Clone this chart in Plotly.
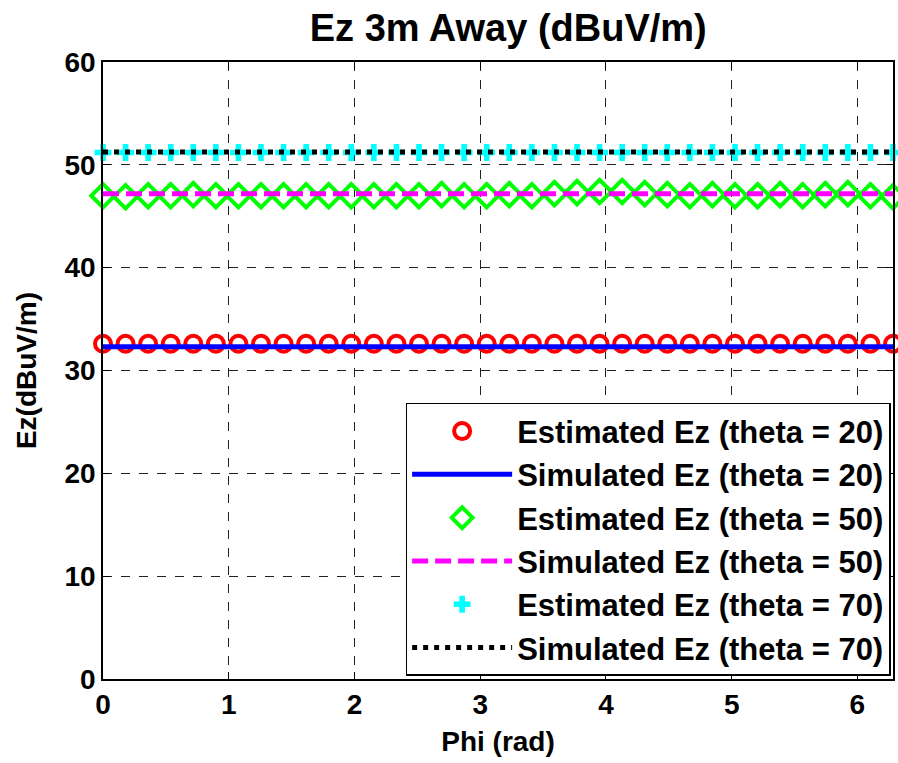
import plotly.graph_objects as go

# Phi samples (rad)
phi = [0.0, 0.1795, 0.3590, 0.5386, 0.7181, 0.8976, 1.0771, 1.2566, 1.4362, 1.6157,
       1.7952, 1.9747, 2.1542, 2.3338, 2.5133, 2.6928, 2.8723, 3.0518, 3.2314, 3.4109,
       3.5904, 3.7699, 3.9494, 4.1290, 4.3085, 4.4880, 4.6675, 4.8470, 5.0265, 5.2061,
       5.3856, 5.5651, 5.7446, 5.9242, 6.1037, 6.2832]

est20 = [32.6, 32.6, 32.6, 32.6, 32.6, 32.6, 32.6, 32.6, 32.6, 32.6, 32.6, 32.6,
         32.6, 32.6, 32.6, 32.6, 32.6, 32.6, 32.6, 32.6, 32.6, 32.6, 32.6, 32.6,
         32.6, 32.6, 32.6, 32.6, 32.6, 32.6, 32.6, 32.6, 32.6, 32.6, 32.6, 32.6]
sim20 = [32.3, 32.3, 32.3, 32.3, 32.3, 32.3, 32.3, 32.3, 32.3, 32.3, 32.3, 32.3,
         32.3, 32.3, 32.3, 32.3, 32.3, 32.3, 32.3, 32.3, 32.3, 32.3, 32.3, 32.3,
         32.3, 32.3, 32.3, 32.3, 32.3, 32.3, 32.3, 32.3, 32.3, 32.3, 32.3, 32.3]
est50 = [47.0, 46.9, 47.0, 47.0, 47.1, 47.0, 47.0, 47.0, 47.0, 47.0, 47.0, 47.0,
         47.0, 47.0, 47.0, 47.1, 47.0, 47.0, 47.1, 47.0, 47.2, 47.3, 47.4, 47.4,
         47.2, 47.1, 47.0, 47.1, 47.0, 47.0, 47.1, 47.0, 47.1, 47.2, 47.0, 46.9]
sim50 = [47.2, 47.2, 47.2, 47.2, 47.2, 47.2, 47.2, 47.2, 47.2, 47.2, 47.2, 47.2,
         47.2, 47.2, 47.2, 47.2, 47.2, 47.2, 47.2, 47.2, 47.2, 47.2, 47.2, 47.2,
         47.2, 47.2, 47.2, 47.2, 47.2, 47.2, 47.2, 47.2, 47.2, 47.2, 47.2, 47.2]
est70 = [51.2, 51.2, 51.2, 51.2, 51.2, 51.2, 51.2, 51.2, 51.2, 51.2, 51.2, 51.2,
         51.2, 51.2, 51.2, 51.2, 51.2, 51.2, 51.2, 51.2, 51.2, 51.2, 51.2, 51.2,
         51.2, 51.2, 51.2, 51.2, 51.2, 51.2, 51.2, 51.2, 51.2, 51.2, 51.2, 51.2]
sim70 = [51.25, 51.25, 51.25, 51.25, 51.25, 51.25, 51.25, 51.25, 51.25, 51.25, 51.25, 51.25,
         51.25, 51.25, 51.25, 51.25, 51.25, 51.25, 51.25, 51.25, 51.25, 51.25, 51.25, 51.25,
         51.25, 51.25, 51.25, 51.25, 51.25, 51.25, 51.25, 51.25, 51.25, 51.25, 51.25, 51.25]

names = ["Estimated Ez (theta = 20)", "Simulated Ez (theta = 20)",
         "Estimated Ez (theta = 50)", "Simulated Ez (theta = 50)",
         "Estimated Ez (theta = 70)", "Simulated Ez (theta = 70)"]

FONT = "Arial, Liberation Sans, Helvetica, sans-serif"

fig = go.Figure()
fig.add_trace(go.Scatter(x=phi, y=est20, mode="markers", name=names[0], legendgroup="a",
                         cliponaxis=False,
                         marker=dict(symbol="circle-open", size=16, color="#ff0000",
                                     line=dict(width=4, color="#ff0000"))))
fig.add_trace(go.Scatter(x=phi, y=sim20, mode="lines", name=names[1], legendgroup="b",
                         line=dict(color="#0000ff", width=5)))
fig.add_trace(go.Scatter(x=phi, y=est50, mode="markers", name=names[2], legendgroup="c",
                         cliponaxis=False,
                         marker=dict(symbol="diamond-open", size=18, color="#00ff00",
                                     line=dict(width=4, color="#00ff00"))))
fig.add_trace(go.Scatter(x=phi, y=sim50, mode="lines", name=names[3], legendgroup="d",
                         line=dict(color="#ff00ff", width=5, dash="16px,7px")))
fig.add_trace(go.Scatter(x=phi, y=est70, mode="markers", name=names[4], legendgroup="e",
                         cliponaxis=False,
                         marker=dict(symbol="cross", size=14, color="#00ffff",
                                     line=dict(width=0))))
fig.add_trace(go.Scatter(x=phi, y=sim70, mode="lines", name=names[5], legendgroup="f",
                         line=dict(color="#000000", width=5, dash="5px,6px")))

axis_common = dict(
    showline=True, linecolor="black", linewidth=1.5, mirror="ticks",
    ticks="inside", ticklen=7, tickwidth=1, tickcolor="black",
    showgrid=True, gridcolor="#222222", gridwidth=1, griddash="dash",
    zeroline=False,
    tickfont=dict(family=FONT, size=28, color="black", weight="bold"),
)

fig.update_xaxes(range=[0, 6.2832], tickvals=[0, 1, 2, 3, 4, 5, 6],
                 title=dict(text="Phi (rad)", standoff=12,
                            font=dict(family=FONT, size=28, color="black", weight="bold")),
                 **axis_common)
fig.update_yaxes(range=[0, 60], tickvals=[0, 10, 20, 30, 40, 50, 60],
                 title=dict(text="Ez(dBuV/m)", standoff=20,
                            font=dict(family=FONT, size=28, color="black", weight="bold")),
                 **axis_common)

fig.update_layout(
    width=898, height=763,
    margin=dict(l=103, r=3, t=62, b=84),
    paper_bgcolor="white", plot_bgcolor="white",
    title=dict(text="Ez 3m Away (dBuV/m)", x=0.566, xanchor="center",
               y=0.964, yanchor="middle", yref="container",
               font=dict(family=FONT, size=38, color="black", weight="bold")),
    legend=dict(x=0.997, y=0.005, xanchor="right", yanchor="bottom",
                bgcolor="white", bordercolor="black", borderwidth=1.5,
                font=dict(family=FONT, size=31, color="black", weight="bold"),
                itemwidth=100, tracegroupgap=0),
    showlegend=True,
)

fig.write_html("out.html")
